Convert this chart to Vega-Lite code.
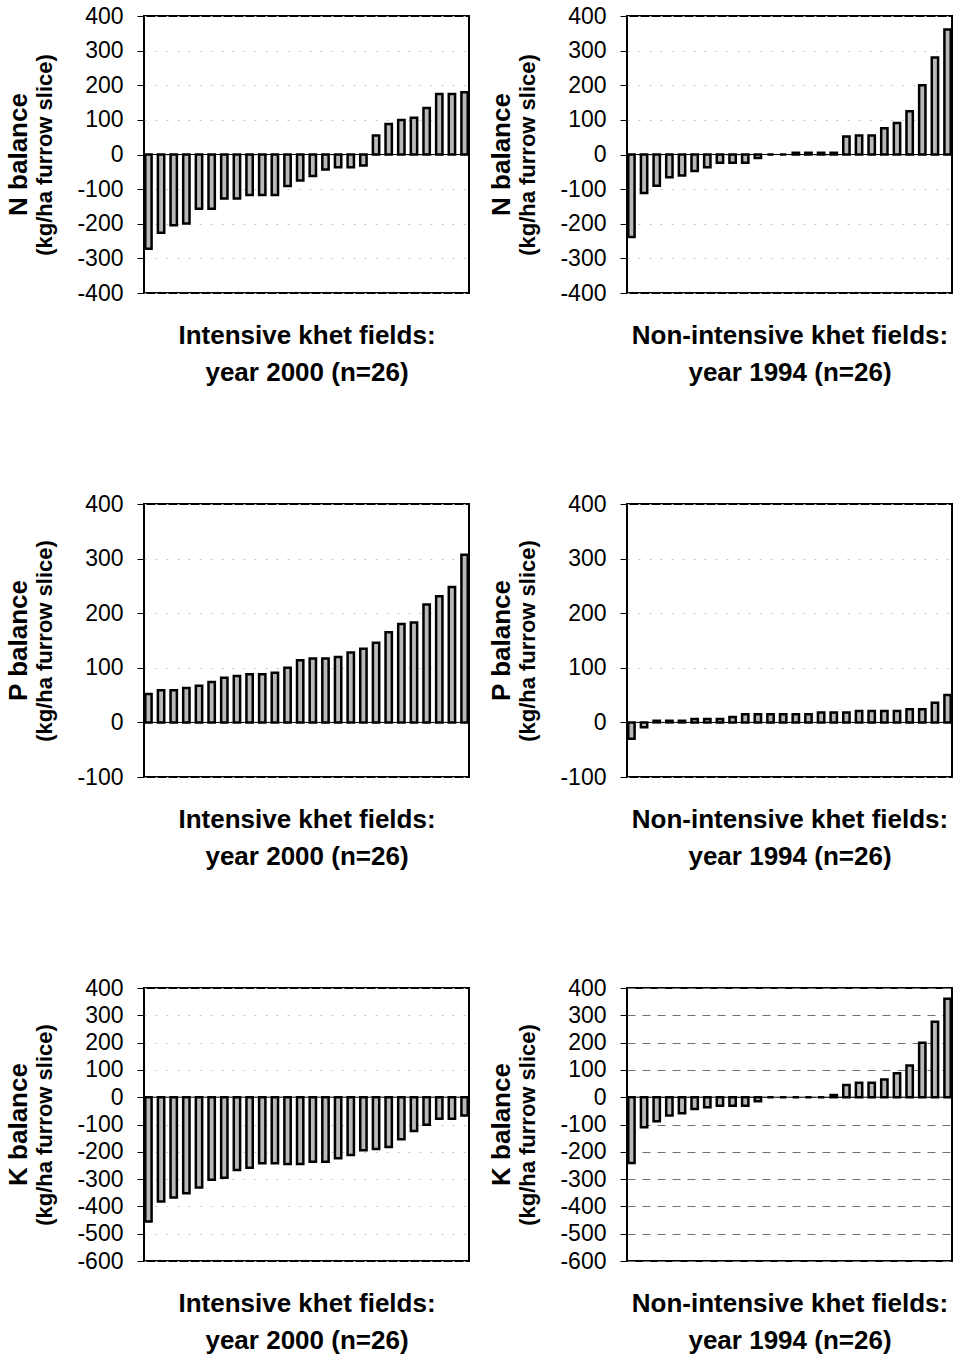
{
  "$schema": "https://vega.github.io/schema/vega-lite/v6.json",
  "background": "white",
  "padding": {"top": 4, "left": 4, "right": 0, "bottom": 0},
  "datasets": {
    "N_int": [{"field":1,"balance":-272},{"field":2,"balance":-226},{"field":3,"balance":-204},{"field":4,"balance":-199},{"field":5,"balance":-157},{"field":6,"balance":-157},{"field":7,"balance":-127},{"field":8,"balance":-127},{"field":9,"balance":-117},{"field":10,"balance":-117},{"field":11,"balance":-117},{"field":12,"balance":-91},{"field":13,"balance":-75},{"field":14,"balance":-62},{"field":15,"balance":-43},{"field":16,"balance":-37},{"field":17,"balance":-37},{"field":18,"balance":-32},{"field":19,"balance":55},{"field":20,"balance":88},{"field":21,"balance":100},{"field":22,"balance":106},{"field":23,"balance":134},{"field":24,"balance":175},{"field":25,"balance":175},{"field":26,"balance":180}],
    "N_non": [{"field":1,"balance":-238},{"field":2,"balance":-111},{"field":3,"balance":-90},{"field":4,"balance":-66},{"field":5,"balance":-61},{"field":6,"balance":-48},{"field":7,"balance":-37},{"field":8,"balance":-24},{"field":9,"balance":-24},{"field":10,"balance":-24},{"field":11,"balance":-10},{"field":12,"balance":0},{"field":13,"balance":0},{"field":14,"balance":5},{"field":15,"balance":5},{"field":16,"balance":5},{"field":17,"balance":5},{"field":18,"balance":52},{"field":19,"balance":55},{"field":20,"balance":55},{"field":21,"balance":76},{"field":22,"balance":91},{"field":23,"balance":125},{"field":24,"balance":200},{"field":25,"balance":280},{"field":26,"balance":361}],
    "P_int": [{"field":1,"balance":52},{"field":2,"balance":59},{"field":3,"balance":59},{"field":4,"balance":63},{"field":5,"balance":67},{"field":6,"balance":74},{"field":7,"balance":82},{"field":8,"balance":85},{"field":9,"balance":88},{"field":10,"balance":88},{"field":11,"balance":91},{"field":12,"balance":100},{"field":13,"balance":114},{"field":14,"balance":117},{"field":15,"balance":117},{"field":16,"balance":120},{"field":17,"balance":128},{"field":18,"balance":135},{"field":19,"balance":146},{"field":20,"balance":165},{"field":21,"balance":180},{"field":22,"balance":183},{"field":23,"balance":216},{"field":24,"balance":231},{"field":25,"balance":248},{"field":26,"balance":307}],
    "P_non": [{"field":1,"balance":-30},{"field":2,"balance":-9},{"field":3,"balance":3},{"field":4,"balance":3},{"field":5,"balance":3},{"field":6,"balance":6},{"field":7,"balance":6},{"field":8,"balance":6},{"field":9,"balance":10},{"field":10,"balance":15},{"field":11,"balance":15},{"field":12,"balance":15},{"field":13,"balance":15},{"field":14,"balance":15},{"field":15,"balance":15},{"field":16,"balance":18},{"field":17,"balance":18},{"field":18,"balance":18},{"field":19,"balance":21},{"field":20,"balance":21},{"field":21,"balance":21},{"field":22,"balance":21},{"field":23,"balance":24},{"field":24,"balance":24},{"field":25,"balance":36},{"field":26,"balance":50}],
    "K_int": [{"field":1,"balance":-455},{"field":2,"balance":-382},{"field":3,"balance":-367},{"field":4,"balance":-352},{"field":5,"balance":-331},{"field":6,"balance":-302},{"field":7,"balance":-295},{"field":8,"balance":-267},{"field":9,"balance":-258},{"field":10,"balance":-242},{"field":11,"balance":-242},{"field":12,"balance":-245},{"field":13,"balance":-245},{"field":14,"balance":-236},{"field":15,"balance":-236},{"field":16,"balance":-224},{"field":17,"balance":-212},{"field":18,"balance":-194},{"field":19,"balance":-190},{"field":20,"balance":-182},{"field":21,"balance":-154},{"field":22,"balance":-124},{"field":23,"balance":-101},{"field":24,"balance":-79},{"field":25,"balance":-79},{"field":26,"balance":-67}],
    "K_non": [{"field":1,"balance":-241},{"field":2,"balance":-110},{"field":3,"balance":-88},{"field":4,"balance":-67},{"field":5,"balance":-59},{"field":6,"balance":-43},{"field":7,"balance":-37},{"field":8,"balance":-31},{"field":9,"balance":-31},{"field":10,"balance":-31},{"field":11,"balance":-15},{"field":12,"balance":0},{"field":13,"balance":0},{"field":14,"balance":0},{"field":15,"balance":0},{"field":16,"balance":0},{"field":17,"balance":8},{"field":18,"balance":45},{"field":19,"balance":53},{"field":20,"balance":53},{"field":21,"balance":65},{"field":22,"balance":88},{"field":23,"balance":116},{"field":24,"balance":199},{"field":25,"balance":276},{"field":26,"balance":361}],
    "zero": [{"balance": 0}]
  },
  "config": {
    "font": "Liberation Sans",
    "view": {"stroke": "#000000", "strokeWidth": 2},
    "axis": {"labelFont": "Liberation Sans", "titleFont": "Liberation Sans", "labelColor": "#000000", "titleColor": "#000000"},
    "axisY": {"labelFontSize": 23, "tickSize": 7, "tickColor": "#000000", "tickWidth": 1, "labelPadding": 14, "labelOverlap": false, "labelBound": false, "labelExpr": "toString(datum.value)", "domain": false, "titleFontSize": 22, "titleFontWeight": "bold", "titlePadding": 20, "grid": true, "gridColor": "#c4c4c4", "gridDash": [2, 9], "gridWidth": 1},
    "axisX": {"labels": false, "ticks": false, "domain": false, "grid": false, "titleFontSize": 26, "titleFontWeight": "bold", "titlePadding": 29, "titleLineHeight": 37},
    "title": {"font": "Liberation Sans", "fontSize": 26, "fontWeight": "bold", "color": "#000000", "orient": "left", "anchor": "middle", "offset": 2},
    "bar": {"fill": "#b9b9b9", "stroke": "#000000", "strokeWidth": 2.5},
    "scale": {"bandPaddingInner": 0.5, "bandPaddingOuter": 0.1}
  },
  "columns": 2,
  "bounds": "flush",
  "spacing": {"row": 211, "column": 158},
  "concat": [
    {
      "width": 325, "height": 277,
      "title": {"text": "N balance"},
      "encoding": {"y": {"field": "balance", "type": "quantitative", "scale": {"domain": [-400, 400], "nice": false}, "axis": {"title": "(kg/ha furrow slice)", "values": [-400, -300, -200, -100, 0, 100, 200, 300, 400]}}},
      "layer": [
        {"data": {"name": "zero"}, "mark": {"type": "rule", "color": "#000000", "strokeWidth": 1}},
        {"data": {"name": "N_int"}, "mark": "bar", "encoding": {
          "x": {"field": "field", "type": "ordinal", "axis": {"title": ["Intensive khet fields:", "year 2000 (n=26)"]}}
        }}
      ]
    },
    {
      "width": 325, "height": 277,
      "title": {"text": "N balance"},
      "encoding": {"y": {"field": "balance", "type": "quantitative", "scale": {"domain": [-400, 400], "nice": false}, "axis": {"title": "(kg/ha furrow slice)", "values": [-400, -300, -200, -100, 0, 100, 200, 300, 400]}}},
      "layer": [
        {"data": {"name": "zero"}, "mark": {"type": "rule", "color": "#000000", "strokeWidth": 1}},
        {"data": {"name": "N_non"}, "mark": "bar", "encoding": {
          "x": {"field": "field", "type": "ordinal", "axis": {"title": ["Non-intensive khet fields:", "year 1994 (n=26)"]}}
        }}
      ]
    },
    {
      "width": 325, "height": 273,
      "title": {"text": "P balance"},
      "encoding": {"y": {"field": "balance", "type": "quantitative", "scale": {"domain": [-100, 400], "nice": false}, "axis": {"title": "(kg/ha furrow slice)", "values": [-100, 0, 100, 200, 300, 400]}}},
      "layer": [
        {"data": {"name": "zero"}, "mark": {"type": "rule", "color": "#000000", "strokeWidth": 1}},
        {"data": {"name": "P_int"}, "mark": "bar", "encoding": {
          "x": {"field": "field", "type": "ordinal", "axis": {"title": ["Intensive khet fields:", "year 2000 (n=26)"]}}
        }}
      ]
    },
    {
      "width": 325, "height": 273,
      "title": {"text": "P balance"},
      "encoding": {"y": {"field": "balance", "type": "quantitative", "scale": {"domain": [-100, 400], "nice": false}, "axis": {"title": "(kg/ha furrow slice)", "values": [-100, 0, 100, 200, 300, 400]}}},
      "layer": [
        {"data": {"name": "zero"}, "mark": {"type": "rule", "color": "#000000", "strokeWidth": 1}},
        {"data": {"name": "P_non"}, "mark": "bar", "encoding": {
          "x": {"field": "field", "type": "ordinal", "axis": {"title": ["Non-intensive khet fields:", "year 1994 (n=26)"]}}
        }}
      ]
    },
    {
      "width": 325, "height": 273,
      "title": {"text": "K balance"},
      "encoding": {"y": {"field": "balance", "type": "quantitative", "scale": {"domain": [-600, 400], "nice": false}, "axis": {"title": "(kg/ha furrow slice)", "values": [-600, -500, -400, -300, -200, -100, 0, 100, 200, 300, 400]}}},
      "layer": [
        {"data": {"name": "zero"}, "mark": {"type": "rule", "color": "#000000", "strokeWidth": 1}},
        {"data": {"name": "K_int"}, "mark": "bar", "encoding": {
          "x": {"field": "field", "type": "ordinal", "axis": {"title": ["Intensive khet fields:", "year 2000 (n=26)"]}}
        }}
      ]
    },
    {
      "width": 325, "height": 273,
      "title": {"text": "K balance"},
      "encoding": {"y": {"field": "balance", "type": "quantitative", "scale": {"domain": [-600, 400], "nice": false}, "axis": {"title": "(kg/ha furrow slice)", "values": [-600, -500, -400, -300, -200, -100, 0, 100, 200, 300, 400], "gridColor": "#707070", "gridDash": [8, 7]}}},
      "layer": [
        {"data": {"name": "zero"}, "mark": {"type": "rule", "color": "#000000", "strokeWidth": 1}},
        {"data": {"name": "K_non"}, "mark": "bar", "encoding": {
          "x": {"field": "field", "type": "ordinal", "axis": {"title": ["Non-intensive khet fields:", "year 1994 (n=26)"]}}
        }}
      ]
    }
  ]
}
